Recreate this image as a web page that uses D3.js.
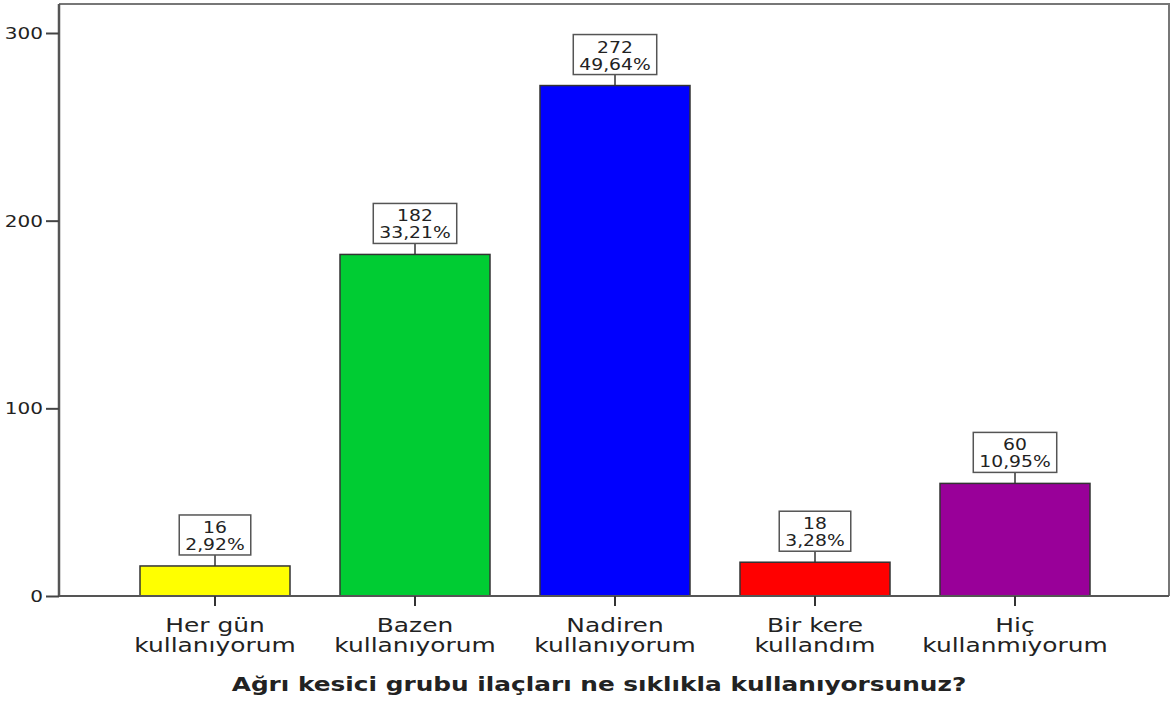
<!DOCTYPE html>
<html>
<head>
<meta charset="utf-8">
<script src="https://cdn.jsdelivr.net/npm/d3@7"></script>
<style>
  body { margin: 0; background: #fff; }
  svg text { font-family: "DejaVu Sans", sans-serif; fill: #222; }
</style>
</head>
<body>
<div id="chart"></div>
<script>
// data
var categories = ["Her gün\nkullanıyorum", "Bazen\nkullanıyorum", "Nadiren\nkullanıyorum", "Bir kere\nkullandım", "Hiç\nkullanmıyorum"];
var counts = [16, 182, 272, 18, 60];
var percents = ["2,92%", "33,21%", "49,64%", "3,28%", "10,95%"];
var colors = ["#ffff00", "#00cc33", "#0000ff", "#ff0000", "#990099"];
var yTicks = [0, 100, 200, 300];
var xTitle = "Ağrı kesici grubu ilaçları ne sıklıkla kullanıyorsunuz?";

var w = 1171, h = 702;
var sx = 1.25; // the reference text is stretched sideways
var plotL = 59, plotR = 1169, plotT = 4, plotB = 596;

var svg = d3.select("#chart").append("svg")
  .attr("width", w)
  .attr("height", h);

var x = d3.scaleBand()
  .domain(categories)
  .range([115, 1115])
  .paddingInner(0.25)
  .paddingOuter(0.125);

var y = d3.scaleLinear()
  .domain([0, 300])
  .range([plotB, 33]);

// frame: top + right (lighter grey), left edge up to the top
svg.append("path")
  .attr("d", "M" + plotL + "," + plotT + "H" + plotR + "V" + plotB)
  .attr("fill", "none")
  .attr("stroke", "#777")
  .attr("stroke-width", 2);
svg.append("line")
  .attr("x1", plotL).attr("x2", plotL)
  .attr("y1", plotT).attr("y2", plotB)
  .attr("stroke", "#555")
  .attr("stroke-width", 2.5);

// bars
svg.selectAll("rect.bar")
  .data(counts)
  .enter()
  .append("rect")
  .attr("class", "bar")
  .attr("x", function(d, i) { return x(categories[i]); })
  .attr("y", function(d) { return y(d); })
  .attr("width", x.bandwidth())
  .attr("height", function(d) { return y(0) - y(d); })
  .attr("fill", function(d, i) { return colors[i]; })
  .attr("stroke", "#333")
  .attr("stroke-width", 1.5);

// y axis
var yAxis = svg.append("g")
  .attr("transform", "translate(" + plotL + ",0)")
  .call(d3.axisLeft(y).tickValues(yTicks).tickSize(13).tickSizeOuter(0).tickPadding(3).tickFormat(d3.format("d")));
yAxis.select(".domain").remove();
yAxis.selectAll(".tick line").attr("stroke", "#444").attr("stroke-width", 2);
yAxis.selectAll(".tick text")
  .attr("font-size", 16)
  .attr("fill", "#222")
  .attr("dy", "0.35em")
  .each(function() {
    var t = d3.select(this);
    var tx = +t.attr("x");
    t.attr("x", null).attr("transform", "translate(" + tx + ",0) scale(" + sx + ",1)");
  });

// x axis line
svg.append("line")
  .attr("x1", plotL).attr("x2", plotR)
  .attr("y1", y(0)).attr("y2", y(0))
  .attr("stroke", "#555")
  .attr("stroke-width", 2);

// x ticks + labels
var xt = svg.selectAll("g.xtick")
  .data(categories)
  .enter()
  .append("g")
  .attr("class", "xtick")
  .attr("transform", function(d) { return "translate(" + (x(d) + x.bandwidth() / 2) + "," + y(0) + ")"; });
xt.append("line")
  .attr("y1", 0).attr("y2", 10)
  .attr("stroke", "#333")
  .attr("stroke-width", 2);
xt.each(function(d) {
  var g = d3.select(this);
  d.split("\n").forEach(function(line, k) {
    g.append("text")
      .attr("transform", "translate(0," + (36 + k * 20) + ") scale(1.31,1)")
      .attr("text-anchor", "middle")
      .attr("font-size", 19)
      .attr("fill", "#222")
      .text(line);
  });
});

// value boxes
var lab = svg.selectAll("g.lab")
  .data(counts)
  .enter()
  .append("g")
  .attr("class", "lab")
  .attr("transform", function(d, i) { return "translate(" + (x(categories[i]) + x.bandwidth() / 2) + "," + y(d) + ")"; });
lab.append("line")
  .attr("y1", 0).attr("y2", -11)
  .attr("stroke", "#333")
  .attr("stroke-width", 1.5);
lab.each(function(d, i) {
  var g = d3.select(this);
  var box = g.append("rect");
  var t1 = g.append("text")
    .attr("transform", "translate(0,-33) scale(" + sx + ",1)")
    .attr("text-anchor", "middle")
    .attr("font-size", 15)
    .text(d);
  var t2 = g.append("text")
    .attr("transform", "translate(0,-16) scale(" + sx + ",1)")
    .attr("text-anchor", "middle")
    .attr("font-size", 15)
    .text(percents[i]);
  var tw = Math.max(t1.node().getComputedTextLength(), t2.node().getComputedTextLength()) * sx;
  box.attr("x", -tw / 2 - 6).attr("width", tw + 12)
    .attr("y", -51).attr("height", 40)
    .attr("fill", "#fff")
    .attr("stroke", "#555")
    .attr("stroke-width", 1.5);
});

// axis title
svg.append("text")
  .attr("transform", "translate(" + ((plotL + plotR) / 2 - 15) + ",691) scale(1.24,1)")
  .attr("text-anchor", "middle")
  .attr("font-size", 20)
  .attr("font-weight", "bold")
  .attr("fill", "#111")
  .text(xTitle);
</script>
</body>
</html>
